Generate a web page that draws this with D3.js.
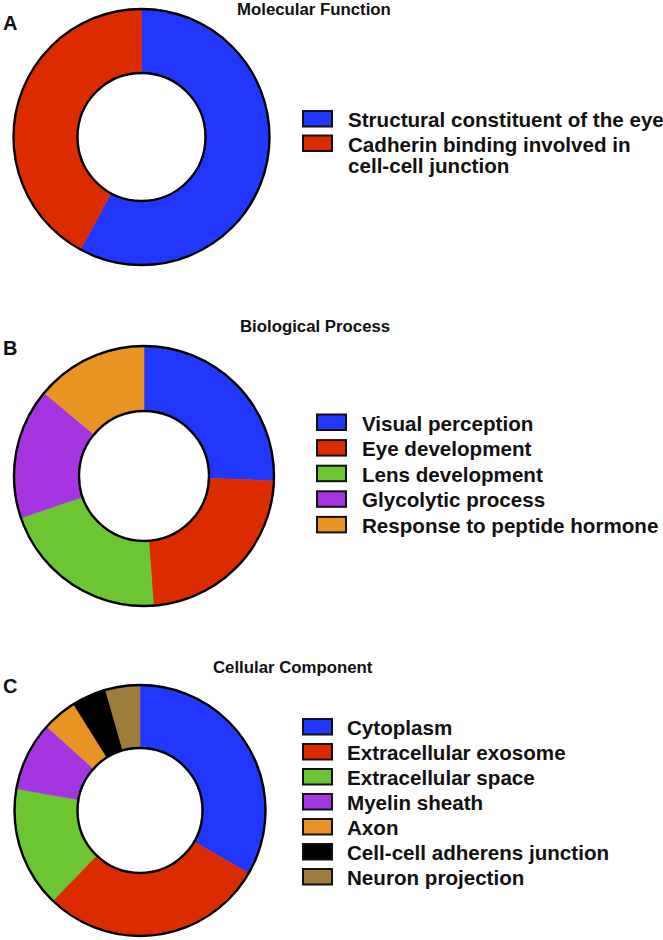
<!DOCTYPE html>
<html>
<head>
<meta charset="utf-8">
<script src="https://cdn.jsdelivr.net/npm/d3@7"></script>
<style>
  html, body { margin: 0; padding: 0; background: #fff; }
  svg { display: block; }
  text { font-family: "Liberation Sans", Arial, Helvetica, sans-serif; font-weight: bold; fill: #111; }
</style>
</head>
<body>
<svg id="chart" width="663" height="940"></svg>
<script>
// ---- Data ----
const mfCategories = ["Structural constituent of the eye", "Cadherin binding involved in cell-cell junction"];
const mfValues = [11, 8];

const bpCategories = ["Visual perception", "Eye development", "Lens development", "Glycolytic process", "Response to peptide hormone"];
const bpValues = [11, 10, 9, 7, 6];

const ccCategories = ["Cytoplasm", "Extracellular exosome", "Extracellular space", "Myelin sheath", "Axon", "Cell-cell adherens junction", "Neuron projection"];
const ccValues = [15, 13, 7, 4, 2, 2, 2];

const panelTitles = ["Molecular Function", "Biological Process", "Cellular Component"];
const panelLetters = ["A", "B", "C"];

const palette = ["#2137fe", "#dd2b00", "#6cc632", "#a535e0", "#e89423", "#000000", "#9f7b3c"];

// ---- Layout ----
const layout = [
  { cx: 141.5, cy: 137, R: 128, r: 64, titleX: 237, titleY: 15, letterY: 30,
    boxX: 303, textX: 348, firstBase: 127, pitch: 24.5 },
  { cx: 144, cy: 476, R: 130, r: 65, titleX: 240, titleY: 332, letterY: 355,
    boxX: 317, textX: 362, firstBase: 430.5, pitch: 25.6 },
  { cx: 140, cy: 810.5, R: 125.5, r: 62.5, titleX: 213, titleY: 673, letterY: 693,
    boxX: 303, textX: 347, firstBase: 735, pitch: 25 }
];

const panels = [
  { cats: mfCategories, vals: mfValues },
  { cats: bpCategories, vals: bpValues },
  { cats: ccCategories, vals: ccValues }
];

const svg = d3.select("#chart");
const color = d3.scaleOrdinal().range(palette);

panels.forEach((p, i) => {
  const L = layout[i];
  const g = svg.append("g");

  // panel letter and title
  g.append("text").attr("x", 3).attr("y", L.letterY)
    .style("font-size", "20px").text(panelLetters[i]);
  g.append("text").attr("x", L.titleX).attr("y", L.titleY)
    .style("font-size", "16.8px").text(panelTitles[i]);

  // donut
  const pie = d3.pie().sort(null).value(d => d.v).startAngle(0).endAngle(2 * Math.PI);
  const arc = d3.arc().innerRadius(L.r).outerRadius(L.R);
  const data = p.cats.map((c, k) => ({ c, v: p.vals[k] }));
  color.domain(p.cats);

  const dg = g.append("g").attr("transform", `translate(${L.cx},${L.cy})`);
  dg.selectAll("path.slice").data(pie(data)).join("path")
    .attr("class", "slice")
    .attr("d", arc)
    .attr("fill", d => color(d.data.c))
    .attr("stroke", d => color(d.data.c))
    .attr("stroke-width", 0.6);
  dg.append("circle").attr("r", L.R).attr("fill", "none").attr("stroke", "#000").attr("stroke-width", 2.4);
  dg.append("circle").attr("r", L.r).attr("fill", "none").attr("stroke", "#000").attr("stroke-width", 2.4);

  // legend
  const maxW = 663 - L.textX + 4;
  let base = L.firstBase;
  p.cats.forEach((c, k) => {
    g.append("rect")
      .attr("x", L.boxX).attr("y", base - 16)
      .attr("width", 29).attr("height", 15.5)
      .attr("fill", color(c)).attr("stroke", "#111").attr("stroke-width", 2);
    const t = g.append("text").attr("x", L.textX).attr("y", base).style("font-size", "20.6px");
    // word wrap
    const words = c.split(" ");
    let line = [];
    let tspan = t.append("tspan").attr("x", L.textX).attr("y", base);
    let lines = 1;
    words.forEach(w => {
      line.push(w);
      tspan.text(line.join(" "));
      if (tspan.node().getComputedTextLength() > maxW && line.length > 1) {
        line.pop();
        tspan.text(line.join(" "));
        line = [w];
        lines++;
        tspan = t.append("tspan").attr("x", L.textX).attr("y", base + (lines - 1) * 21.5).text(w);
      }
    });
    base += L.pitch + (lines - 1) * 21.5;
  });
});
</script>
</body>
</html>
